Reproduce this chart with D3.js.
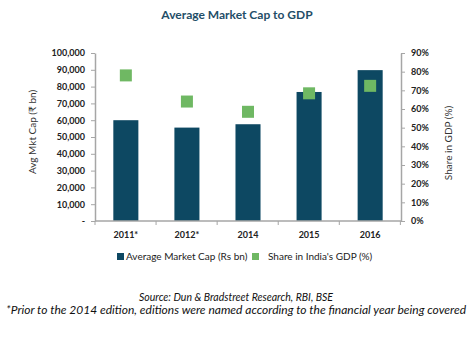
<!DOCTYPE html>
<html>
<head>
<meta charset="utf-8">
<script src="https://cdn.jsdelivr.net/npm/d3@7"></script>
<style>
  body { margin: 0; background: #fff; }
</style>
</head>
<body>
<svg width="472" height="342"></svg>
<script>
var years = ["2011*", "2012*", "2014", "2015", "2016"];
var mktCap = [60000, 55600, 57600, 76800, 89800];
var gdpShare = [0.78, 0.64, 0.585, 0.684, 0.724];
var capTicks = [0, 10000, 20000, 30000, 40000, 50000, 60000, 70000, 80000, 90000, 100000];
var shareTicks = [0, 0.1, 0.2, 0.3, 0.4, 0.5, 0.6, 0.7, 0.8, 0.9];

var svg = d3.select("svg"),
  width = +svg.attr("width"),
  height = +svg.attr("height");

var font = "Lato, 'Open Sans', sans-serif";
var plotLeft = 95, plotRight = 401, plotTop = 53, plotBottom = 221;

var x = d3.scaleBand().domain(years).range([plotLeft, plotRight]).paddingInner(0.59).paddingOuter(0.3);
var yCap = d3.scaleLinear().domain([0, 100000]).range([plotBottom, plotTop]);
var yShare = d3.scaleLinear().domain([0, 0.9]).range([plotBottom, plotTop]);

svg.append("text")
  .attr("x", 237).attr("y", 19)
  .attr("text-anchor", "middle")
  .attr("font-family", font).attr("font-size", 12).attr("font-weight", "bold")
  .attr("fill", "#1f4e68")
  .text("Average Market Cap to GDP");

// bars
svg.selectAll("rect.bar")
  .data(mktCap)
  .enter()
  .append("rect")
  .attr("class", "bar")
  .attr("x", function (d, i) { return x(years[i]); })
  .attr("y", function (d) { return yCap(d); })
  .attr("width", x.bandwidth())
  .attr("height", function (d) { return plotBottom - yCap(d); })
  .attr("fill", "#0d4862");

// squares
var sq = 12;
svg.selectAll("rect.sq")
  .data(gdpShare)
  .enter()
  .append("rect")
  .attr("class", "sq")
  .attr("x", function (d, i) { return x(years[i]) + x.bandwidth() / 2 - sq / 2; })
  .attr("y", function (d) { return yShare(d) - sq / 2; })
  .attr("width", sq).attr("height", sq)
  .attr("fill", "#6fb863");

// left axis
var yAxisL = d3.axisLeft(yCap).tickValues(capTicks).tickSize(4).tickSizeOuter(0)
  .tickFormat(function (d) { return d === 0 ? "-" : d3.format(",")(d); });
var gL = svg.append("g").attr("transform", "translate(" + plotLeft + ",0)").call(yAxisL);

// right axis
var yAxisR = d3.axisRight(yShare).tickValues(shareTicks).tickSize(4).tickSizeOuter(0)
  .tickFormat(d3.format(".0%"));
var gR = svg.append("g").attr("transform", "translate(" + plotRight + ",0)").call(yAxisR);

// x axis
var gX = svg.append("g").attr("transform", "translate(0," + plotBottom + ")");
gX.append("line").attr("x1", plotLeft).attr("x2", plotRight).attr("stroke", "#a6a6a6").attr("stroke-width", 1.5);
gX.selectAll("line.tk")
  .data(d3.range(years.length + 1))
  .enter()
  .append("line")
  .attr("class", "tk")
  .attr("x1", function (i) { return plotLeft + i * x.step(); })
  .attr("x2", function (i) { return plotLeft + i * x.step(); })
  .attr("y1", 0).attr("y2", 4)
  .attr("stroke", "#a6a6a6");
gX.selectAll("text")
  .data(years)
  .enter()
  .append("text")
  .attr("x", function (d) { return x(d) + x.bandwidth() / 2; })
  .attr("y", 17)
  .attr("text-anchor", "middle")
  .attr("font-family", font).attr("font-size", 9).attr("font-weight", "bold")
  .attr("fill", "#222")
  .text(function (d) { return d; });

[gL, gR].forEach(function (g) {
  g.select(".domain").attr("stroke", "#a6a6a6").attr("stroke-width", 1.5);
  g.selectAll(".tick line").attr("stroke", "#a6a6a6");
  g.selectAll(".tick text").attr("font-family", font).attr("font-size", 9)
    .attr("font-weight", "bold").attr("fill", "#222");
});
gL.selectAll(".tick text").attr("x", -10);
gR.selectAll(".tick text").attr("x", 10);

// axis titles
svg.append("text")
  .attr("transform", "translate(36,132) rotate(-90)")
  .attr("text-anchor", "middle")
  .attr("font-family", font).attr("font-size", 10).attr("fill", "#333")
  .text("Avg Mkt Cap (₹ bn)");
svg.append("text")
  .attr("transform", "translate(452,143) rotate(-90)")
  .attr("text-anchor", "middle")
  .attr("font-family", font).attr("font-size", 10).attr("fill", "#333")
  .text("Share in GDP (%)");

// legend
var legend = svg.append("g").attr("font-family", font).attr("font-size", 10).attr("fill", "#222");
legend.append("rect").attr("x", 117).attr("y", 253).attr("width", 7).attr("height", 7).attr("fill", "#0d4862");
legend.append("text").attr("x", 126).attr("y", 260).text("Average Market Cap (Rs bn)");
legend.append("rect").attr("x", 252).attr("y", 253).attr("width", 7).attr("height", 7).attr("fill", "#6fb863");
legend.append("text").attr("x", 268).attr("y", 260).text("Share in India's GDP (%)");

// notes
svg.append("text")
  .attr("x", 236).attr("y", 301)
  .attr("text-anchor", "middle")
  .attr("font-family", font).attr("font-size", 10.5).attr("font-style", "italic").attr("fill", "#111")
  .text("Source: Dun & Bradstreet Research, RBI, BSE");
svg.append("text")
  .attr("x", 236).attr("y", 314)
  .attr("text-anchor", "middle")
  .attr("font-family", font).attr("font-size", 10.5).attr("font-style", "italic").attr("fill", "#111")
  .attr("textLength", 460).attr("lengthAdjust", "spacingAndGlyphs")
  .text("*Prior to the 2014 edition, editions were named according to the financial year being covered");
</script>
</body>
</html>
